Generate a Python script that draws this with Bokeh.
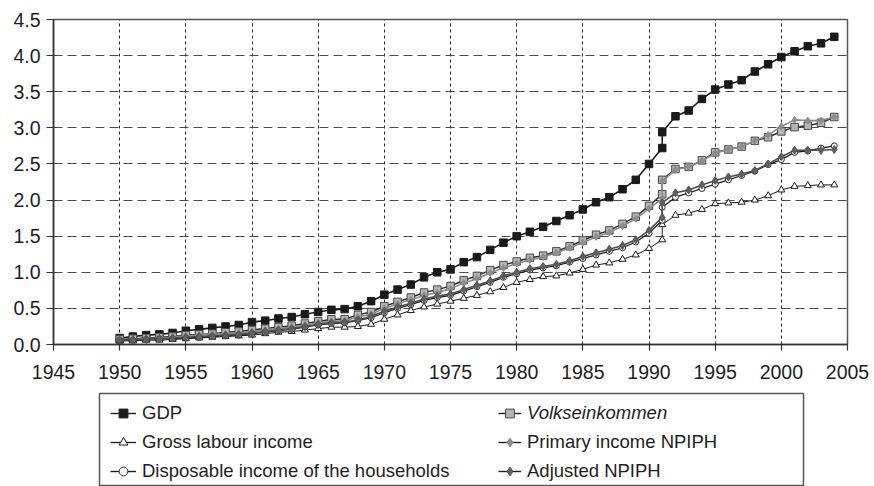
from bokeh.plotting import figure
from bokeh.models import Legend, LegendItem, Range1d, FixedTicker, NumeralTickFormatter
from bokeh.layouts import column
from bokeh.embed import file_html
from bokeh.resources import INLINE

# ---- data (1991 appears twice: West Germany / unified Germany) ----
years = list(range(1950, 1992)) + [1991] + list(range(1992, 2005))

gdp = [0.09, 0.11, 0.13, 0.14, 0.16, 0.19, 0.21, 0.23, 0.25, 0.27,
       0.31, 0.33, 0.36, 0.38, 0.42, 0.45, 0.48, 0.49, 0.53, 0.60,
       0.69, 0.76, 0.83, 0.93, 1.00, 1.04, 1.14, 1.21, 1.31, 1.41,
       1.50, 1.56, 1.63, 1.71, 1.79, 1.87, 1.97, 2.04, 2.15, 2.28,
       2.50, 2.72, 2.94,
       3.16, 3.24, 3.40, 3.53, 3.60, 3.66, 3.78, 3.88, 3.98, 4.06, 4.13, 4.17, 4.26]

volks = [0.07, 0.08, 0.09, 0.10, 0.11, 0.13, 0.14, 0.15, 0.17, 0.18,
         0.20, 0.22, 0.24, 0.26, 0.29, 0.32, 0.35, 0.35, 0.41, 0.45,
         0.53, 0.59, 0.65, 0.72, 0.76, 0.81, 0.89, 0.95, 1.03, 1.10,
         1.15, 1.20, 1.23, 1.29, 1.36, 1.44, 1.52, 1.58, 1.67, 1.77,
         1.92, 2.08, 2.28,
         2.43, 2.46, 2.55, 2.66, 2.70, 2.74, 2.82, 2.87, 2.95, 3.01, 3.03, 3.07, 3.15]

gross = [0.05, 0.05, 0.06, 0.06, 0.07, 0.08, 0.09, 0.10, 0.11, 0.12,
         0.13, 0.15, 0.17, 0.18, 0.20, 0.22, 0.24, 0.24, 0.25, 0.28,
         0.35, 0.41, 0.47, 0.52, 0.56, 0.60, 0.64, 0.68, 0.73, 0.79,
         0.86, 0.90, 0.94, 0.95, 0.99, 1.04, 1.10, 1.13, 1.18, 1.24,
         1.33, 1.45, 1.66,
         1.79, 1.82, 1.87, 1.95, 1.96, 1.97, 2.00, 2.06, 2.14, 2.19, 2.20, 2.21, 2.21]

primary = [0.06, 0.07, 0.08, 0.09, 0.10, 0.12, 0.13, 0.14, 0.15, 0.16,
           0.18, 0.20, 0.22, 0.24, 0.27, 0.30, 0.32, 0.33, 0.38, 0.42,
           0.50, 0.56, 0.62, 0.68, 0.72, 0.77, 0.85, 0.91, 0.99, 1.06,
           1.12, 1.17, 1.21, 1.27, 1.34, 1.41, 1.49, 1.55, 1.64, 1.74,
           1.88, 2.02, 2.26,
           2.42, 2.46, 2.54, 2.65, 2.70, 2.74, 2.82, 2.90, 3.02, 3.11, 3.10, 3.10, 3.15]

disposable = [0.06, 0.06, 0.07, 0.08, 0.08, 0.09, 0.10, 0.11, 0.12, 0.13,
              0.15, 0.17, 0.19, 0.21, 0.24, 0.27, 0.29, 0.30, 0.33, 0.37,
              0.44, 0.50, 0.55, 0.61, 0.65, 0.68, 0.74, 0.80, 0.86, 0.93,
              0.98, 1.03, 1.06, 1.09, 1.14, 1.19, 1.24, 1.29, 1.34, 1.42,
              1.54, 1.72, 1.90,
              2.04, 2.10, 2.16, 2.22, 2.28, 2.34, 2.40, 2.49, 2.56, 2.66, 2.68, 2.72, 2.75]

adjusted = [0.06, 0.07, 0.07, 0.08, 0.09, 0.10, 0.11, 0.12, 0.13, 0.14,
            0.16, 0.18, 0.20, 0.22, 0.25, 0.28, 0.30, 0.31, 0.34, 0.39,
            0.46, 0.52, 0.57, 0.63, 0.67, 0.70, 0.76, 0.82, 0.88, 0.95,
            1.00, 1.05, 1.08, 1.11, 1.16, 1.22, 1.27, 1.32, 1.37, 1.45,
            1.58, 1.76, 1.96,
            2.10, 2.14, 2.21, 2.27, 2.32, 2.36, 2.41, 2.50, 2.60, 2.69, 2.69, 2.69, 2.70]

x_ticks = [1945, 1950, 1955, 1960, 1965, 1970, 1975, 1980, 1985, 1990, 1995, 2000, 2005]
y_ticks = [0.0, 0.5, 1.0, 1.5, 2.0, 2.5, 3.0, 3.5, 4.0, 4.5]

labels = ["GDP", "Volkseinkommen", "Gross labour income",
          "Primary income NPIPH", "Disposable income of the households", "Adjusted NPIPH"]

FONT = "Liberation Sans"
TXT = "#1e1e1e"

# style per series: (line_color, line_width, marker, size, fill, marker_line)
styles = {
    "GDP": ("#1a1a1a", 1.6, "square", 7.5, "#1a1a1a", "#1a1a1a"),
    "Volkseinkommen": ("#2e2e2e", 1.5, "square", 7.5, "#b4b4b4", "#4a4a4a"),
    "Gross labour income": ("#1a1a1a", 1.0, "triangle", 7, "white", "#1a1a1a"),
    "Primary income NPIPH": ("#8a8a8a", 1.6, "diamond", 7, "#8f8f8f", "#8a8a8a"),
    "Disposable income of the households": ("#1a1a1a", 1.2, "circle", 6, "white", "#2a2a2a"),
    "Adjusted NPIPH": ("#4d4d4d", 1.6, "diamond", 8, "#606060", "#555555"),
}
series = {
    "GDP": gdp, "Volkseinkommen": volks, "Gross labour income": gross,
    "Primary income NPIPH": primary, "Disposable income of the households": disposable,
    "Adjusted NPIPH": adjusted,
}

W = 874
p = figure(width=W, height=392, output_backend="svg", toolbar_location=None,
           x_range=Range1d(1945, 2005), y_range=Range1d(0, 4.5),
           min_border_left=53, min_border_right=27, min_border_top=19, min_border_bottom=48)
p.background_fill_color = "white"
p.border_fill_color = "white"
p.outline_line_color = "#555555"
p.outline_line_width = 1.5

p.xaxis.ticker = FixedTicker(ticks=x_ticks)
p.yaxis.ticker = FixedTicker(ticks=y_ticks)
p.yaxis.formatter = NumeralTickFormatter(format="0.0")
for ax in (p.xaxis, p.yaxis):
    ax.axis_line_color = "#333333"
    ax.axis_line_width = 1.5
    ax.major_tick_line_color = "#333333"
    ax.major_tick_line_width = 1.2
    ax.major_tick_in = 0
    ax.minor_tick_line_color = None
    ax.major_label_text_font = FONT
    ax.major_label_text_font_size = "19.5px"
    ax.major_label_text_color = TXT
p.xaxis.major_tick_out = 6
p.xaxis.major_label_standoff = 14
p.yaxis.major_tick_out = 7
p.yaxis.major_label_standoff = 6

p.xgrid.ticker = FixedTicker(ticks=x_ticks)
p.ygrid.ticker = FixedTicker(ticks=y_ticks)
p.xgrid.grid_line_color = "#2a2a2a"
p.xgrid.grid_line_dash = "3 3"
p.xgrid.grid_line_width = 1
p.ygrid.grid_line_color = "#4a4a4a"
p.ygrid.grid_line_dash = "9 5"
p.ygrid.grid_line_width = 1.2

for name in labels:
    lc, lw, mk, sz, fc, mlc = styles[name]
    p.line(years, series[name], line_color=lc, line_width=lw)
    p.scatter(years, series[name], marker=mk, size=sz, fill_color=fc, line_color=mlc, line_width=1)

# ---- legend panel (separate figure so the box sits below the axis) ----
lp = figure(width=W, height=94, output_backend="svg", toolbar_location=None,
            x_range=Range1d(0, 1), y_range=Range1d(0, 1),
            x_axis_location=None, y_axis_location=None,
            min_border_left=99, min_border_right=71, min_border_top=1, min_border_bottom=0)
lp.grid.visible = False
lp.outline_line_color = "#555555"
lp.outline_line_width = 1.5
lp.background_fill_color = "white"
lp.border_fill_color = "white"

for fig in (p, lp):
    if "frame_align" in fig.properties():
        fig.frame_align = False

NAN = float("nan")
items = {}
for name in labels:
    lc, lw, mk, sz, fc, mlc = styles[name]
    r1 = lp.line([NAN], [NAN], line_color="#222222", line_width=1.4)
    r2 = lp.scatter([NAN], [NAN], marker=mk, size=sz - 1.5, fill_color=fc, line_color=mlc, line_width=1)
    items[name] = LegendItem(label=name, renderers=[r1, r2])


def make_legend(names, loc, gw, italic=False):
    lg = Legend(items=[items[n] for n in names], location=loc,
                padding=0, margin=0, spacing=7,
                glyph_width=gw, glyph_height=22, label_height=22, label_standoff=6,
                border_line_color=None, background_fill_alpha=0,
                label_text_font=FONT, label_text_font_size="18.5px",
                label_text_color=TXT,
                label_text_font_style="italic" if italic else "normal")
    lp.add_layout(lg)
    return lg


make_legend(["GDP", "Gross labour income", "Disposable income of the households"], (11, 4), 26)
make_legend(["Volkseinkommen"], (399, 62), 23, italic=True)
make_legend(["Primary income NPIPH", "Adjusted NPIPH"], (399, 4), 23)

layout = column(p, lp, spacing=0)
open("out.html", "w").write(file_html(layout, INLINE))
